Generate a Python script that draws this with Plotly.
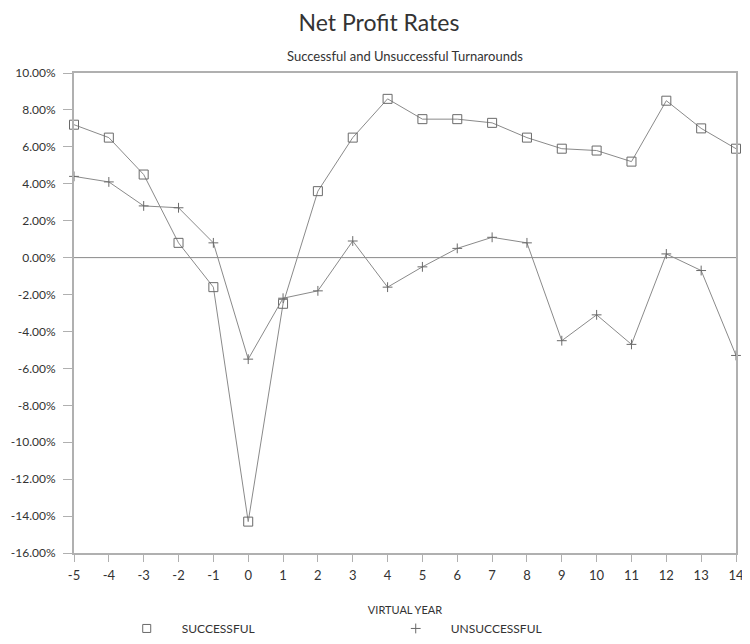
import plotly.graph_objects as go

years = list(range(-5, 15))
successful = [7.2, 6.5, 4.5, 0.8, -1.6, -14.3, -2.5, 3.6, 6.5, 8.6, 7.5, 7.5, 7.3, 6.5,
              5.9, 5.8, 5.2, 8.5, 7.0, 5.9]
unsuccessful = [4.4, 4.1, 2.8, 2.7, 0.8, -5.5, -2.2, -1.8, 0.9, -1.6, -0.5, 0.5, 1.1, 0.8,
                -4.5, -3.1, -4.7, 0.2, -0.7, -5.3]
y_ticks = list(range(-16, 11, 2))

FONT = "Lato"
LINE_C = "#8a8a8a"
MARK_C = "#6a6a6a"
AXIS_C = "#b0b0b0"
TEXT_C = "#333333"

fig = go.Figure()
fig.add_trace(go.Scatter(
    x=years, y=successful, mode="lines+markers", showlegend=False,
    line=dict(color=LINE_C, width=1),
    marker=dict(symbol="square-open", size=9, color=MARK_C, line=dict(width=1)),
    cliponaxis=False,
))
fig.add_trace(go.Scatter(
    x=years, y=unsuccessful, mode="lines+markers", showlegend=False,
    line=dict(color=LINE_C, width=1),
    marker=dict(symbol="cross-thin-open", size=7, color=MARK_C, line=dict(width=1, color=MARK_C)),
    cliponaxis=False,
))
# legend entries (markers only)
fig.add_trace(go.Scatter(
    x=[None], y=[None], mode="markers", name="SUCCESSFUL",
    marker=dict(symbol="square-open", size=8, color=MARK_C, line=dict(width=1)),
))
fig.add_trace(go.Scatter(
    x=[None], y=[None], mode="markers", name="UNSUCCESSFUL",
    marker=dict(symbol="cross-thin-open", size=7, color=MARK_C, line=dict(width=1, color=MARK_C)),
))

fig.add_shape(type="line", xref="paper", x0=0, x1=1, yref="y", y0=0, y1=0,
              line=dict(color="#8a8a8a", width=1), layer="below")

fig.update_layout(
    width=742, height=636,
    margin=dict(l=66, r=14, t=65, b=91, autoexpand=False),
    paper_bgcolor="white", plot_bgcolor="white",
    font=dict(family=FONT, size=12, color=TEXT_C),
    title=dict(text="Net Profit Rates", x=0.5, xanchor="center", y=0.976, yanchor="middle",
               font=dict(family=FONT, size=23, color=TEXT_C)),
    annotations=[dict(text="Successful and Unsuccessful Turnarounds", xref="paper", yref="paper",
                      x=0.5, y=1, yshift=17, xanchor="center", yanchor="middle",
                      showarrow=False, font=dict(family=FONT, size=13, color=TEXT_C))],
    xaxis=dict(
        range=[-5, 14], tickmode="array", tickvals=years, ticktext=[str(v) for v in years],
        showgrid=False, zeroline=False, showline=True, linecolor=AXIS_C, linewidth=2,
        mirror=True, ticks="outside", ticklen=7, tickcolor=AXIS_C, tickwidth=1,
        tickfont=dict(size=13), ticklabelstandoff=2,
        title=dict(text="VIRTUAL YEAR", font=dict(size=11), standoff=25),
    ),
    yaxis=dict(
        range=[-16, 10], tickmode="array", tickvals=y_ticks,
        ticktext=[f"{v:.2f}%" for v in y_ticks],
        showgrid=False, zeroline=False, showline=True, linecolor=AXIS_C, linewidth=2,
        mirror=True, ticks="outside", ticklen=9, tickcolor=AXIS_C, tickwidth=1,
        tickfont=dict(size=12), ticklabelstandoff=5,
    ),
    legend=dict(orientation="h", x=0.057, xanchor="left", y=-0.127, yanchor="top",
                itemwidth=60, entrywidth=194, font=dict(size=12), bgcolor="rgba(0,0,0,0)"),
)

fig.write_html("out.html")
